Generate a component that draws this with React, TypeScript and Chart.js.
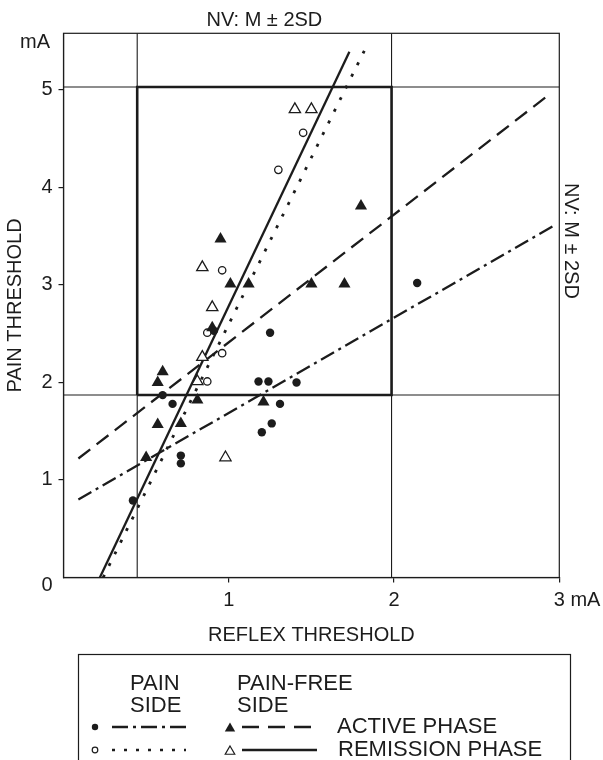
import React, { useEffect, useRef } from 'react';
import { Chart, registerables } from 'chart.js';
Chart.register(...registerables);

// ---- data (reflex threshold x, pain threshold y, in mA) ----
const painSideActive = [[0.42,0.79],[0.60,1.87],[0.66,1.78],[0.71,1.25],[0.71,1.17],[0.91,2.53],[1.18,2.01],[1.24,2.01],[1.41,2.00],[1.25,2.51],[1.31,1.78],[1.26,1.58],[1.20,1.49],[2.14,3.02]];
const painFreeActive = [[1.80,3.81],[0.95,3.47],[1.01,3.01],[1.12,3.01],[1.50,3.01],[1.70,3.01],[0.90,2.56],[0.60,2.11],[0.57,2.00],[0.81,1.82],[1.21,1.80],[0.57,1.57],[0.71,1.58],[0.50,1.23]];
const painSideRemission = [[1.45,4.56],[1.30,4.18],[0.96,3.15],[0.87,2.51],[0.96,2.30],[0.87,2.01]];
const painFreeRemission = [[1.40,4.80],[1.50,4.80],[0.84,3.18],[0.90,2.77],[0.84,2.26],[0.81,2.01],[0.98,1.23]];

// regression lines (end points)
const fitPainActive = [[0.09,0.80],[2.98,3.62]];
const fitPainFreeActive = [[0.09,1.22],[2.93,4.94]];
const fitPainRemission = [[0.24,0],[1.82,5.40]];
const fitPainFreeRemission = [[0.22,0],[1.73,5.39]];

// normal values (M ± 2SD)
const nvX = [0.446, 1.985];
const nvY = [1.872, 5.03];

const xTicks = [1, 2, 3];
const xTickLabels = ['1', '2', '3'];
const yTicks = [0, 1, 2, 3, 4, 5];
const yTickLabels = ['0', '1', '2', '3', '4', '5'];
const xRange = [0, 3];
const yRange = [0, 5.58];

const INK = '#1c1c1c';
const FONT = '"Liberation Sans", Arial, sans-serif';

const toPts = (a: number[][]) => a.map(([x, y]) => ({ x, y }));

function drawTri(ctx: CanvasRenderingContext2D, x: number, y: number, r: number, filled: boolean) {
  ctx.beginPath();
  ctx.moveTo(x, y - r);
  ctx.lineTo(x + r * 0.866, y + r * 0.5);
  ctx.lineTo(x - r * 0.866, y + r * 0.5);
  ctx.closePath();
  if (filled) { ctx.fillStyle = INK; ctx.fill(); }
  else { ctx.fillStyle = '#fff'; ctx.fill(); ctx.lineWidth = 1.2; ctx.strokeStyle = INK; ctx.stroke(); }
}

const decor = {
  id: 'decor',
  afterDraw(chart: any) {
    const ctx: CanvasRenderingContext2D = chart.ctx;
    const { left, right, top, bottom } = chart.chartArea;
    const xs = chart.scales.x, ys = chart.scales.y;
    ctx.save();
    ctx.strokeStyle = INK;
    ctx.lineWidth = 1.2;
    ctx.strokeRect(left, top, right - left, bottom - top);

    ctx.fillStyle = INK;
    ctx.font = `20px ${FONT}`;
    ctx.textAlign = 'center';
    ctx.textBaseline = 'middle';
    ctx.fillText('NV: M ± 2SD', xs.getPixelForValue((nvX[0] + nvX[1]) / 2), 20);
    ctx.textAlign = 'right';
    ctx.fillText('mA', 50, 42);
    // "0" of the y axis sits just below the corner
    ctx.fillText(yTickLabels[0], left - 11, bottom + 8);
    ctx.textAlign = 'left';
    const x3 = xs.getPixelForValue(3) + ctx.measureText('3').width / 2 + ctx.measureText(' ').width;
    ctx.fillText('mA', x3, bottom + 5 + 6 + 12);
    ctx.save();
    ctx.translate(571, ys.getPixelForValue((nvY[0] + nvY[1]) / 2));
    ctx.rotate(Math.PI / 2);
    ctx.textAlign = 'center';
    ctx.fillText('NV: M ± 2SD', 0, 0);
    ctx.restore();

    // legend box
    ctx.lineWidth = 1.2;
    ctx.strokeStyle = INK;
    ctx.strokeRect(78.5, 654.5, 492, 120);
    ctx.font = `22px ${FONT}`;
    ctx.textAlign = 'left';
    ctx.fillStyle = INK;
    ctx.fillText('PAIN', 130, 684);
    ctx.fillText('SIDE', 130, 706);
    ctx.fillText('PAIN-FREE', 237, 684);
    ctx.fillText('SIDE', 237, 706);
    ctx.fillText('ACTIVE PHASE', 337, 727);
    ctx.fillText('REMISSION PHASE', 338, 750);

    const seg = (x1: number, x2: number, y: number, dash: number[], w: number) => {
      ctx.beginPath();
      ctx.setLineDash(dash);
      ctx.lineWidth = w;
      ctx.strokeStyle = INK;
      ctx.moveTo(x1, y);
      ctx.lineTo(x2, y);
      ctx.stroke();
      ctx.setLineDash([]);
    };
    const r3 = 727, r4 = 750;
    ctx.beginPath(); ctx.arc(95, r3, 3.2, 0, Math.PI * 2); ctx.fillStyle = INK; ctx.fill();
    seg(112, 186, r3, [16, 5, 3, 5], 2.4);
    drawTri(ctx, 230, r3 + 1.5, 6, true);
    seg(242, 311, r3, [17, 9], 2.4);
    ctx.beginPath(); ctx.arc(95, r4, 2.8, 0, Math.PI * 2); ctx.fillStyle = '#fff'; ctx.fill(); ctx.lineWidth = 1.2; ctx.strokeStyle = INK; ctx.stroke();
    seg(112, 186, r4, [3, 9], 2.6);
    drawTri(ctx, 230, r4 + 1.5, 5.5, false);
    seg(242, 317, r4, [], 2.4);
    ctx.restore();
  },
};

export default function App() {
  const ref = useRef<HTMLCanvasElement>(null);
  useEffect(() => {
    document.body.style.margin = '0';
    const lineDs = (pts: number[][], dash: number[], w: number, order: number) => ({
      type: 'scatter' as const,
      data: toPts(pts),
      showLine: true,
      pointRadius: 0,
      borderColor: INK,
      borderWidth: w,
      borderDash: dash,
      fill: false,
      order,
    });
    const chart = new Chart(ref.current!, {
      type: 'scatter',
      data: {
        datasets: [
          { data: toPts(painSideActive), pointStyle: 'circle', pointRadius: 4.2, backgroundColor: INK, borderColor: INK, borderWidth: 0, order: 0 },
          { data: toPts(painFreeActive), pointStyle: 'triangle', pointRadius: 7, backgroundColor: INK, borderColor: INK, borderWidth: 0, order: 0 },
          { data: toPts(painSideRemission), pointStyle: 'circle', pointRadius: 3.7, backgroundColor: '#fff', borderColor: INK, borderWidth: 1.3, order: 0 },
          { data: toPts(painFreeRemission), pointStyle: 'triangle', pointRadius: 6.5, backgroundColor: '#fff', borderColor: INK, borderWidth: 1.3, order: 0 },
          lineDs(fitPainActive, [15, 5, 3, 5], 2.3, 1),
          lineDs(fitPainFreeActive, [15, 8], 2.3, 1),
          lineDs(fitPainRemission, [3, 10], 2.8, 1),
          lineDs(fitPainFreeRemission, [], 2.3, 1),
          lineDs([[xRange[0], nvY[0]], [xRange[1], nvY[0]]], [], 1.1, 2),
          lineDs([[xRange[0], nvY[1]], [xRange[1], nvY[1]]], [], 1.1, 2),
          lineDs([[nvX[0], yRange[0]], [nvX[0], yRange[1]]], [], 1.1, 2),
          lineDs([[nvX[1], yRange[0]], [nvX[1], yRange[1]]], [], 1.1, 2),
          lineDs([[nvX[0], nvY[0]], [nvX[1], nvY[0]], [nvX[1], nvY[1]], [nvX[0], nvY[1]], [nvX[0], nvY[0]]], [], 2.6, 2),
        ] as any,
      },
      options: {
        animation: false,
        responsive: false,
        devicePixelRatio: 1,
        layout: { padding: { left: 0, right: 43.7, top: 33.3, bottom: 112.5 } },
        plugins: { legend: { display: false }, tooltip: { enabled: false } },
        scales: {
          x: {
            type: 'linear', min: xRange[0], max: xRange[1],
            afterFit: (s: any) => { s.height = 70; },
            afterBuildTicks: (s: any) => { s.ticks = xTicks.map((v) => ({ value: v })); },
            ticks: { callback: (v: any) => xTickLabels[xTicks.indexOf(Number(v))] ?? '', padding: 6, font: { size: 20, family: FONT }, color: INK, maxRotation: 0, autoSkip: false },
            grid: { drawOnChartArea: false, drawTicks: true, tickLength: 5, color: INK, lineWidth: 1.2 },
            border: { display: true, color: INK, width: 1.2 },
            title: { display: true, text: 'REFLEX THRESHOLD', font: { size: 20, family: FONT }, color: INK, padding: 0 },
          },
          y: {
            type: 'linear', min: yRange[0], max: yRange[1],
            afterFit: (s: any) => { s.width = 63.5; },
            afterBuildTicks: (s: any) => { s.ticks = yTicks.map((v) => ({ value: v })); },
            ticks: { callback: (v: any) => (Number(v) === yTicks[0] ? '' : yTickLabels[yTicks.indexOf(Number(v))] ?? ''), padding: 6, font: { size: 20, family: FONT }, color: INK, autoSkip: false },
            grid: { drawOnChartArea: false, drawTicks: true, tickLength: 5, color: (c: any) => (c.tick && c.tick.value === 0 ? 'rgba(0,0,0,0)' : INK), lineWidth: 1.2 },
            border: { display: true, color: INK, width: 1.2 },
            title: { display: true, text: 'PAIN THRESHOLD', font: { size: 20, family: FONT }, color: INK, padding: { top: 3, bottom: 0 } },
          },
        },
      },
      plugins: [decor],
    });
    return () => chart.destroy();
  }, []);
  return <canvas ref={ref} width={603} height={760} style={{ display: 'block' }} />;
}
